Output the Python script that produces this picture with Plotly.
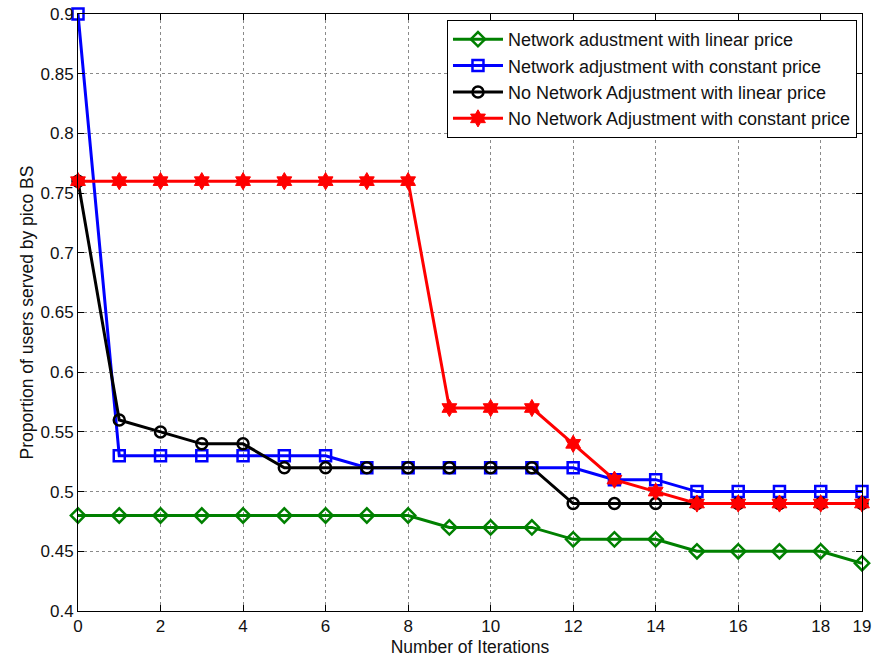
import plotly.graph_objects as go

iterations = list(range(20))
green = [0.48]*9 + [0.47]*3 + [0.46]*3 + [0.45]*4 + [0.44]
blue = [0.90] + [0.53]*6 + [0.52]*6 + [0.51]*2 + [0.50]*5
black = [0.76, 0.56, 0.55, 0.54, 0.54] + [0.52]*7 + [0.49]*8
red = [0.76]*9 + [0.57]*3 + [0.54, 0.51, 0.50] + [0.49]*5

names = ["Network adustment with linear price",
         "Network adjustment with constant price",
         "No Network Adjustment with linear price",
         "No Network Adjustment with constant price"]

x_ticks = [0, 2, 4, 6, 8, 10, 12, 14, 16, 18, 19]
y_ticks = [0.4, 0.45, 0.5, 0.55, 0.6, 0.65, 0.7, 0.75, 0.8, 0.85, 0.9]
y_labels = ["0.4", "0.45", "0.5", "0.55", "0.6", "0.65", "0.7", "0.75", "0.8", "0.85", "0.9"]

fig = go.Figure()
series = [
    (green, "#008000", "diamond-open"),
    (blue, "#0000ff", "square-open"),
    (black, "#000000", "circle-open"),
    (red, "#ff0000", "hexagram"),
]
for (ys, col, sym), nm in zip(series, names):
    fig.add_trace(go.Scatter(
        x=iterations, y=ys, name=nm, mode="lines+markers",
        line=dict(color=col, width=3),
        marker=dict(symbol=sym, size=11 if sym != "hexagram" else 13, color=col,
                    line=dict(color=col, width=2.5 if sym != "hexagram" else 1)),
        cliponaxis=False,
    ))

axis_common = dict(
    showline=True, linecolor="black", linewidth=1, mirror="ticks",
    ticks="inside", ticklen=6, tickcolor="black", automargin=False,
    showgrid=True, gridcolor="#8a8a8a", griddash="dot", gridwidth=1,
    zeroline=False, tickfont=dict(size=17, color="#111111"),
)

fig.update_layout(
    width=874, height=661,
    margin=dict(l=78, r=12, t=14, b=50),
    paper_bgcolor="white", plot_bgcolor="white",
    font=dict(family="Liberation Sans, Arial, sans-serif", color="#111111"),
    xaxis=dict(range=[0, 19], tickvals=x_ticks, ticktext=[str(t) for t in x_ticks],
               title=dict(text="Number of Iterations", font=dict(size=17.5), standoff=5),
               **axis_common),
    yaxis=dict(range=[0.4, 0.9], tickvals=y_ticks, ticktext=y_labels,
               title=dict(text="Proportion of users served by pico BS", font=dict(size=17.5), standoff=2),
               **axis_common),
    legend=dict(x=0.9936, y=0.99, xanchor="right", yanchor="top",
                bgcolor="white", bordercolor="black", borderwidth=1,
                font=dict(size=18, color="#111111"), tracegroupgap=0,
                itemwidth=50),
    showlegend=True,
)

fig.write_html("out.html")
